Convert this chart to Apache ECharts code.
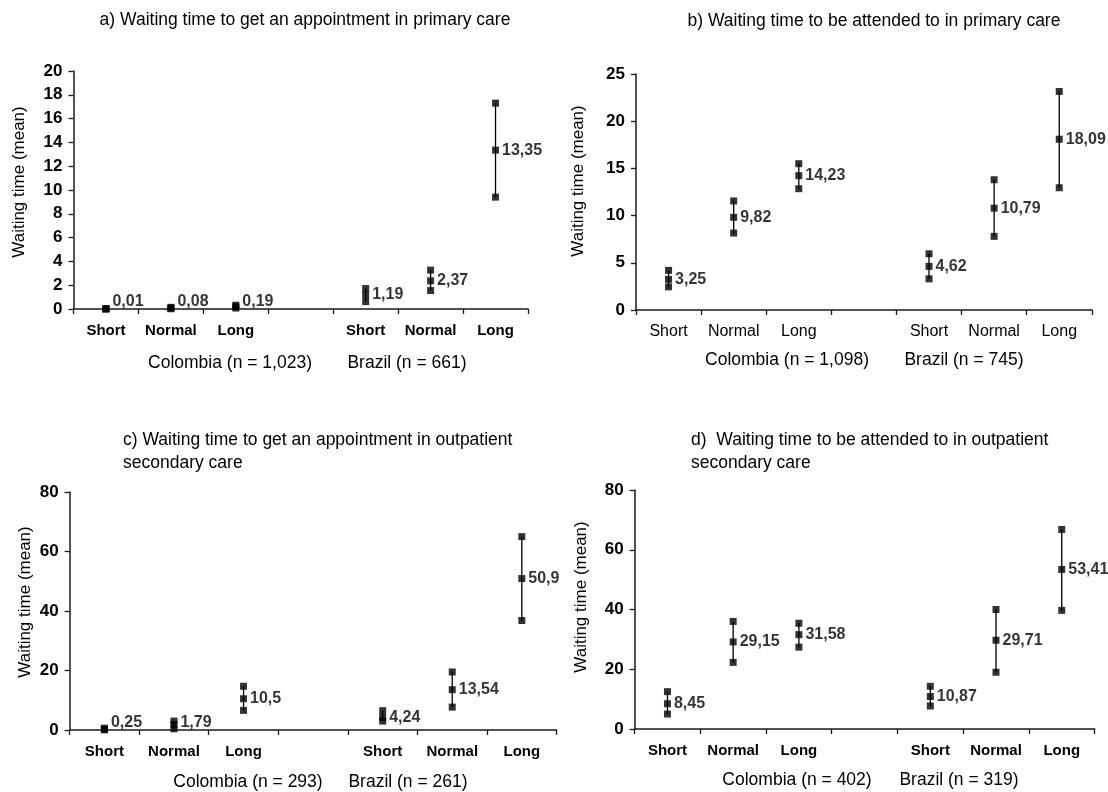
<!DOCTYPE html>
<html><head><meta charset="utf-8">
<script src="https://cdn.jsdelivr.net/npm/echarts@6/dist/echarts.min.js"></script>
<style>html,body{margin:0;padding:0;background:#fff}#c{width:1108px;height:792px}</style>
</head><body><div id="c"></div>
<script>
// ---------- DATA ----------
const categories = ['Short', 'Normal', 'Long', '', 'Short', 'Normal', 'Long'];

const aMean  = [0.01, 0.08, 0.19, null, 1.19, 2.37, 13.35];
const aUpper = [0.03, 0.14, 0.32, null, 1.72, 3.27, 17.3];
const aLower = [0.00, 0.02, 0.08, null, 0.62, 1.55, 9.4];

const bMean  = [3.25, 9.82, 14.23, null, 4.62, 10.79, 18.09];
const bUpper = [4.2, 11.55, 15.5, null, 5.95, 13.8, 23.15];
const bLower = [2.45, 8.15, 12.85, null, 3.3, 7.8, 12.95];

const cMean  = [0.25, 1.79, 10.5, null, 4.24, 13.54, 50.9];
const cUpper = [0.6, 3.0, 14.7, null, 6.5, 19.5, 65.0];
const cLower = [0.05, 0.4, 6.6, null, 3.0, 7.7, 36.8];

const dMean  = [8.45, 29.15, 31.58, null, 10.87, 29.71, 53.41];
const dUpper = [12.5, 36.0, 35.4, null, 14.3, 40.0, 66.8];
const dLower = [5.0, 22.3, 27.4, null, 7.7, 19.0, 39.7];

const aTitle = ['a) Waiting time to get an appointment in primary care'];
const bTitle = ['b) Waiting time to be attended to in primary care'];
const cTitle = ['c) Waiting time to get an appointment in outpatient', 'secondary care'];
const dTitle = ['d)  Waiting time to be attended to in outpatient', 'secondary care'];

const aGroups = ['Colombia (n = 1,023)', 'Brazil (n = 661)'];
const bGroups = ['Colombia (n = 1,098)', 'Brazil (n = 745)'];
const cGroups = ['Colombia (n = 293)', 'Brazil (n = 261)'];
const dGroups = ['Colombia (n = 402)', 'Brazil (n = 319)'];

const yAxisName = 'Waiting time (mean)';
const aScale = [0, 20, 2];
const bScale = [0, 25, 5];
const cScale = [0, 80, 20];
const dScale = [0, 80, 20];

// ---------- LAYOUT ----------
const FONT = '"Liberation Sans", Arial, sans-serif';
const INK = '#000';
const panels = [
  {mean: aMean, up: aUpper, lo: aLower, scale: aScale, title: aTitle, groups: aGroups,
   grid: {left: 73.5, top: 71, width: 454.5, height: 238},
   titlePos: {x: 305, y: 20, align: 'center'}, groupPos: [[230, 363], [407, 363]], yName: [19.5, 182],
   catBold: true, catSize: 15},
  {mean: bMean, up: bUpper, lo: bLower, scale: bScale, title: bTitle, groups: bGroups,
   grid: {left: 636, top: 74, width: 455.8, height: 236},
   titlePos: {x: 874, y: 21, align: 'center'}, groupPos: [[787, 360.5], [964, 360.5]], yName: [578, 181],
   catBold: false, catSize: 16},
  {mean: cMean, up: cUpper, lo: cLower, scale: cScale, title: cTitle, groups: cGroups,
   grid: {left: 69.6, top: 492, width: 487, height: 238},
   titlePos: {x: 123, y: 440, align: 'left'}, groupPos: [[248, 782.5], [408, 782.5]], yName: [25.5, 602],
   catBold: true, catSize: 15},
  {mean: dMean, up: dUpper, lo: dLower, scale: dScale, title: dTitle, groups: dGroups,
   grid: {left: 634.6, top: 490, width: 460, height: 239},
   titlePos: {x: 691, y: 440, align: 'left'}, groupPos: [[797, 780.5], [959, 780.5]], yName: [581, 597],
   catBold: true, catSize: 15}
];

const grids = [], xAxes = [], yAxes = [], series = [], graphics = [];
const pts = arr => arr.map((v, i) => v == null ? null : [i, v]).filter(Boolean);

panels.forEach((p, k) => {
  const gridBottom = p.grid.top + p.grid.height;
  grids.push(Object.assign({outerBoundsMode: 'none', containLabel: false}, p.grid));
  xAxes.push({
    type: 'category', gridIndex: k, data: categories, boundaryGap: true,
    axisLine: {show: true, lineStyle: {color: '#1a1a1a', width: 1.5}},
    axisTick: {show: true, interval: 0, length: 5, lineStyle: {color: '#1a1a1a', width: 1.3}},
    axisLabel: {interval: 0, margin: 14, fontSize: p.catSize, fontWeight: p.catBold ? 'bold' : 'normal',
                color: INK, fontFamily: FONT},
    splitLine: {show: false}
  });
  yAxes.push({
    type: 'value', gridIndex: k, min: p.scale[0], max: p.scale[1], interval: p.scale[2],
    axisLine: {show: true, lineStyle: {color: '#1a1a1a', width: 1.5}},
    axisTick: {show: true, length: 5, lineStyle: {color: '#1a1a1a', width: 1.3}},
    axisLabel: {fontSize: 17, fontWeight: 'bold', margin: 11, color: INK, fontFamily: FONT},
    splitLine: {show: false}
  });
  const ranges = p.mean.map((v, i) => v == null ? null : [i, p.lo[i], p.up[i]]).filter(Boolean);
  series.push({
    type: 'custom', xAxisIndex: k, yAxisIndex: k, data: ranges, z: 2, silent: true,
    encode: {x: 0, y: [1, 2]},
    renderItem: function (params, api) {
      const x = api.value(0);
      const a = api.coord([x, api.value(1)]);
      const b = api.coord([x, api.value(2)]);
      return {type: 'line', shape: {x1: a[0], y1: a[1], x2: b[0], y2: b[1]},
              style: {stroke: '#000', lineWidth: 1.3}};
    }
  });
  [p.up, p.lo].forEach(arr => series.push({
    type: 'scatter', xAxisIndex: k, yAxisIndex: k, data: pts(arr), symbol: 'rect', symbolSize: 7,
    itemStyle: {color: '#000'}, z: 3, silent: true
  }));
  series.push({
    type: 'scatter', xAxisIndex: k, yAxisIndex: k, data: pts(p.mean), symbol: 'rect', symbolSize: 7,
    itemStyle: {color: '#000'}, z: 4, silent: true,
    label: {show: true, position: 'right', distance: 3, fontSize: 16, fontWeight: 'bold', color: INK,
            fontFamily: FONT, formatter: q => String(q.value[1]).replace('.', ',')},
    labelLayout: function (params) {
      const r = params.labelRect;
      const lim = gridBottom + 1;
      if (r.y + r.height > lim) return {dy: lim - (r.y + r.height)};
      return {};
    }
  });
  p.title.forEach((line, j) => graphics.push({
    type: 'text', x: p.titlePos.x, y: p.titlePos.y + j * 23,
    style: {text: line, textAlign: p.titlePos.align, textVerticalAlign: 'middle',
            font: '17.5px ' + FONT, fill: '#000'}
  }));
  p.groups.forEach((g, j) => graphics.push({
    type: 'text', x: p.groupPos[j][0], y: p.groupPos[j][1],
    style: {text: g, textAlign: 'center', textVerticalAlign: 'middle', font: '17.5px ' + FONT, fill: '#000'}
  }));
  graphics.push({
    type: 'text', x: p.yName[0], y: p.yName[1], rotation: Math.PI / 2,
    style: {text: yAxisName, textAlign: 'center', textVerticalAlign: 'middle', font: '17px ' + FONT, fill: '#000'}
  });
});

const chart = echarts.init(document.getElementById('c'), null, {renderer: 'canvas'});
chart.setOption({
  animation: false,
  backgroundColor: '#fff',
  grid: grids, xAxis: xAxes, yAxis: yAxes, series: series, graphic: graphics
});
</script>
</body></html>
